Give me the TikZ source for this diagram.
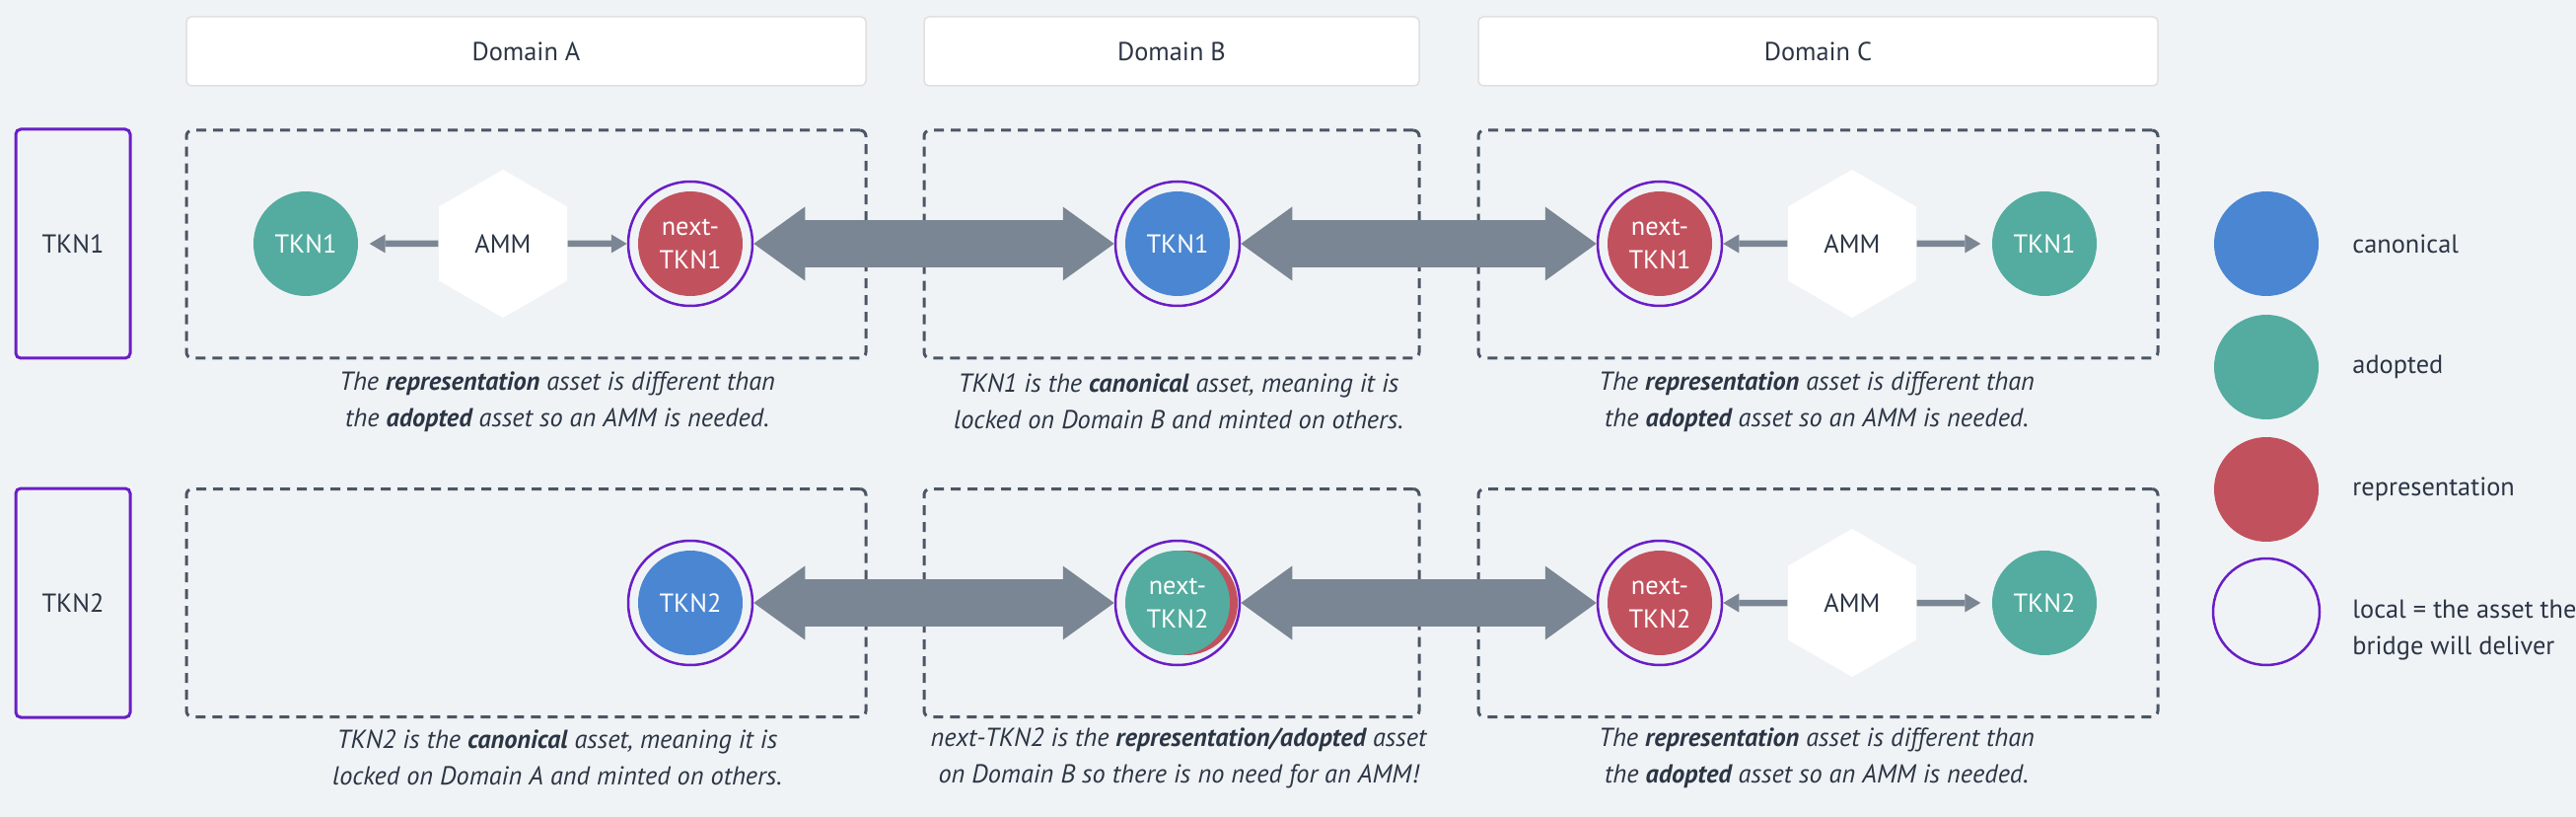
\documentclass[tikz,border=0pt]{standalone}
\usepackage{fontspec}
\setmainfont{PT Sans}
\usetikzlibrary{shapes.geometric, arrows.meta}
\definecolor{bg}{HTML}{F0F3F6}
\definecolor{canon}{HTML}{4A86D2}
\definecolor{adopt}{HTML}{53AC9F}
\definecolor{repr}{HTML}{C2515E}
\definecolor{localc}{HTML}{6A1EC6}
\definecolor{pipegray}{HTML}{7A8693}
\definecolor{ink}{HTML}{2B3544}
\definecolor{framec}{HTML}{4B5664}
\newcommand\basefont{\fontsize{7.5pt}{10.5pt}\selectfont}
\newcommand\tokenfont{\fontsize{7.5pt}{9.7pt}\selectfont}
\newcommand\notefont{\fontsize{7.5pt}{10.5pt}\selectfont\itshape}
\tikzstyle{domainhead} = [rectangle, rounded corners=0.5mm, fill=white, draw=black!12, line width=0.15mm, minimum height=7mm, text=ink, font=\basefont]
\tikzstyle{zone} = [rectangle, rounded corners=0.6mm, draw=framec, line width=0.3mm, dash pattern=on 1mm off 0.7mm, minimum height=23.1mm]
\tikzstyle{rowlabel} = [rectangle, rounded corners=0.5mm, draw=localc, line width=0.3mm, minimum width=11.6mm, minimum height=23.2mm, text=ink, font=\basefont]
\tikzstyle{token} = [circle, minimum size=10.6mm, inner sep=0pt, text=white, align=center, font=\tokenfont]
\tikzstyle{local} = [circle, minimum size=12.6mm, inner sep=0pt, draw=localc, line width=0.25mm]
\tikzstyle{amm} = [regular polygon, regular polygon sides=6, regular polygon rotate=30, minimum size=15mm, inner sep=0pt, fill=white, text=ink, font=\basefont]
\tikzstyle{pipearrow} = [line width=4.8mm, draw=pipegray, {Triangle[length=5.2mm, width=7.5mm, line width=0pt]}-{Triangle[length=5.2mm, width=7.5mm, line width=0pt]}]
\tikzstyle{ammarrow} = [line width=0.65mm, draw=pipegray, -{Triangle[length=1.6mm, width=1.9mm, line width=0pt]}]
\tikzstyle{note} = [align=center, text=ink, font=\notefont]
\tikzstyle{key} = [anchor=west, align=left, text=ink, font=\fontsize{7.5pt}{10.5pt}\selectfont]

\begin{document}
\begin{tikzpicture}[x=0.1mm, y=-0.1mm]
    \fill[bg] (0,0) rectangle (2612,828);
    \useasboundingbox (0,0) rectangle (2612,828);

    % domains
    \node (headA) [domainhead, minimum width=68.9mm] at (533.5,52) {Domain A};
    \node (headB) [domainhead, minimum width=50.2mm] at (1188,52) {Domain B};
    \node (headC) [domainhead, minimum width=68.9mm] at (1843.5,52) {Domain C};

    \node (rowA) [rowlabel] at (74,247) {TKN1};
    \node (rowB) [rowlabel] at (74,611) {TKN2};

    \node (zoneA1) [zone, minimum width=68.9mm] at (533.5,247.5) {};
    \node (zoneB1) [zone, minimum width=50.2mm] at (1188,247.5) {};
    \node (zoneC1) [zone, minimum width=68.9mm] at (1843.5,247.5) {};
    \node (zoneA2) [zone, minimum width=68.9mm] at (533.5,611) {};
    \node (zoneB2) [zone, minimum width=50.2mm] at (1188,611) {};
    \node (zoneC2) [zone, minimum width=68.9mm] at (1843.5,611) {};

    % TKN1
    \node (tknA1) [token, fill=adopt] at (310,247) {TKN1};
    \node (ammA1) [amm] at (510,247) {AMM};
    \node (nextA1) [token, fill=repr] at (700,247) {next-\\TKN1};
    \node (locA1) [local] at (nextA1) {};
    \node (tknB1) [token, fill=canon] at (1194,247) {TKN1};
    \node (locB1) [local] at (tknB1) {};
    \node (nextC1) [token, fill=repr] at (1683,247) {next-\\TKN1};
    \node (locC1) [local] at (nextC1) {};
    \node (ammC1) [amm] at (1878,247) {AMM};
    \node (tknC1) [token, fill=adopt] at (2073,247) {TKN1};

    \draw [ammarrow, shorten >=1.1mm] (ammA1) -- (tknA1);
    \draw [ammarrow] (ammA1) -- (locA1);
    \draw [pipearrow] (locA1) -- (locB1);
    \draw [pipearrow] (locB1) -- (locC1);
    \draw [ammarrow] (ammC1) -- (locC1);
    \draw [ammarrow, shorten >=1.1mm] (ammC1) -- (tknC1);

    \node (noteA1) [note] at (565,407) {The \textbf{representation} asset is different than\\the \textbf{adopted} asset so an AMM is needed.};
    \node (noteB1) [note] at (1195,407) {TKN1 is the \textbf{canonical} asset, meaning it is\\locked on Domain B and minted on others.};
    \node (noteC1) [note] at (1842,407) {The \textbf{representation} asset is different than\\the \textbf{adopted} asset so an AMM is needed.};

    % TKN2
    \node (tknA2) [token, fill=canon] at (700,611) {TKN2};
    \node (locA2) [local] at (tknA2) {};
    \node (reprB2) [token, fill=repr] at (1202,611) {};
    \node (nextB2) [token, fill=adopt] at (1194,611) {next-\\TKN2};
    \node (locB2) [local] at (nextB2) {};
    \node (nextC2) [token, fill=repr] at (1683,611) {next-\\TKN2};
    \node (locC2) [local] at (nextC2) {};
    \node (ammC2) [amm] at (1878,611) {AMM};
    \node (tknC2) [token, fill=adopt] at (2073,611) {TKN2};

    \draw [pipearrow] (locA2) -- (locB2);
    \draw [pipearrow] (locB2) -- (locC2);
    \draw [ammarrow] (ammC2) -- (locC2);
    \draw [ammarrow, shorten >=1.1mm] (ammC2) -- (tknC2);

    \node (noteA2) [note] at (565,768) {TKN2 is the \textbf{canonical} asset, meaning it is\\locked on Domain A and minted on others.};
    \node (noteB2) [note] at (1195,768) {next-TKN2 is the \textbf{representation/adopted} asset\\on Domain B so there is no need for an AMM!};
    \node (noteC2) [note] at (1842,768) {The \textbf{representation} asset is different than\\the \textbf{adopted} asset so an AMM is needed.};

    % legend
    \node (keyCanon) [token, fill=canon] at (2298,247) {};
    \node (keyAdopt) [token, fill=adopt] at (2298,372) {};
    \node (keyRepr) [token, fill=repr] at (2298,496) {};
    \node (keyLocal) [local, minimum size=10.8mm] at (2298,620) {};
    \node (txtCanon) [key] at (2373,247) {canonical};
    \node (txtAdopt) [key] at (2373,372) {adopted};
    \node (txtRepr) [key] at (2373,496) {representation};
    \node (txtLocal) [key] at (2373,639) {local = the asset the\\bridge will deliver};
\end{tikzpicture}
\end{document}
